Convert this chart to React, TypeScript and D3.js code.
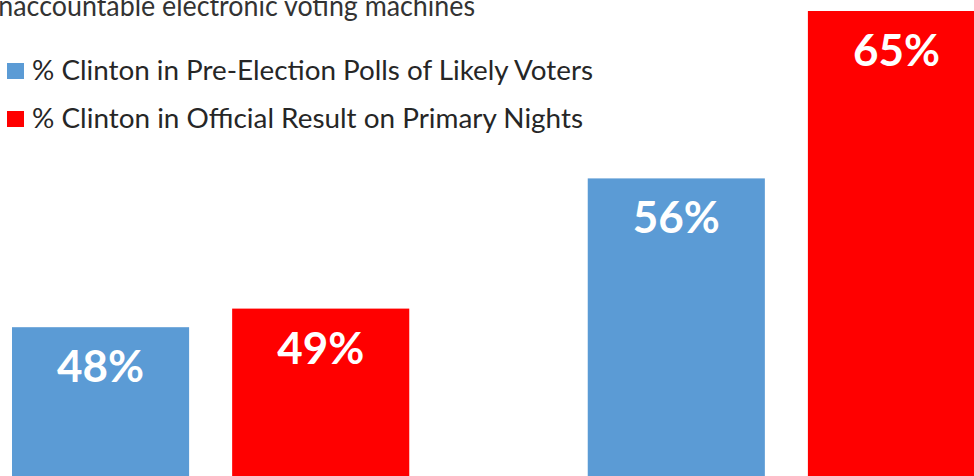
import React from "react";
import * as d3 from "d3";

const categories = ["Group A", "Group B"];
const seriesNames = [
  "% Clinton in Pre-Election Polls of Likely Voters",
  "% Clinton in Official Result on Primary Nights",
];
const pollValues = [48, 56];
const resultValues = [49, 65];
const seriesColors = ["#5B9BD5", "#FF0000"];
const titleText = "Unaccountable electronic voting machines";

const W = 974;
const H = 476;
const FONT = "Lato, 'Open Sans', sans-serif";
const legendLengths = [561, 551];

export default function App() {
  const x0 = d3.scaleBand().domain(categories).range([12, 985]).paddingInner(0.31).paddingOuter(0);
  const x1 = d3.scaleBand().domain(["poll", "result"]).range([0, x0.bandwidth()]).paddingInner(0.1955).paddingOuter(0);
  const y = d3.scaleLinear().domain([40, 65]).range([H, 11]);

  const rows = categories.map((c, i) => ({ c, vals: [pollValues[i], resultValues[i]] }));
  const keys = ["poll", "result"];

  return (
    <svg width={W} height={H} style={{ position: "absolute", left: 0, top: 0, background: "#fff" }}>
      <text
        x={-21}
        y={16}
        fontFamily={FONT}
        fontSize={29}
        fill="#333"
        textLength={496}
        lengthAdjust="spacingAndGlyphs"
      >
        {titleText}
      </text>
      {seriesNames.map((s, i) => (
        <g key={s}>
          <rect x={7} y={63 + i * 48} width={17} height={16} fill={seriesColors[i]} />
          <text
            x={32}
            y={80 + i * 48}
            fontFamily={FONT}
            fontSize={26}
            fill="#262626"
            textLength={legendLengths[i]}
            lengthAdjust="spacingAndGlyphs"
          >
            {s}
          </text>
        </g>
      ))}
      {rows.map((r) => (
        <g key={r.c} transform={`translate(${x0(r.c)},0)`}>
          {r.vals.map((v, j) => (
            <g key={keys[j]}>
              <rect
                x={x1(keys[j])}
                y={y(v)}
                width={x1.bandwidth()}
                height={H - y(v)}
                fill={seriesColors[j]}
              />
              <text
                x={(x1(keys[j]) as number) + x1.bandwidth() / 2}
                y={y(v) + 55}
                textAnchor="middle"
                fontFamily={FONT}
                fontWeight={700}
                fontSize={44}
                fill="#fff"
              >
                {`${v}%`}
              </text>
            </g>
          ))}
        </g>
      ))}
    </svg>
  );
}
